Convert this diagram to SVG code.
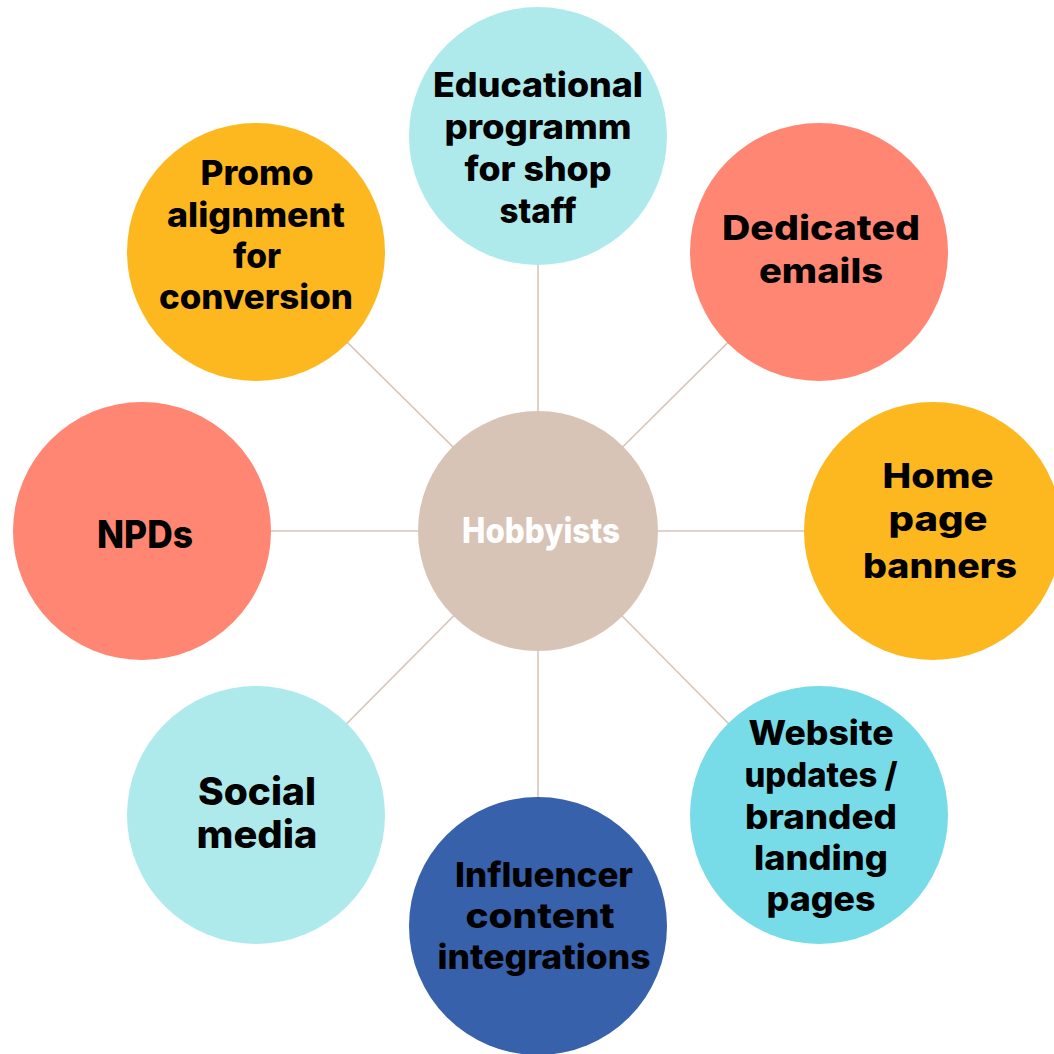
<svg xmlns="http://www.w3.org/2000/svg" width="1054" height="1054" viewBox="0 0 1054 1054">
  <style>
    .link { stroke: #d9c5b8; stroke-width: 1.6; fill: none; }
    .lbl { font-family: Inter, "Noto Sans", "Liberation Sans", sans-serif; font-weight: 800; fill: #000; text-anchor: middle; font-size: 34px; }
    .big { font-size: 38px; }
    .hub { font-family: Inter, "Noto Sans", "Liberation Sans", sans-serif; font-weight: 800; fill: #fff; text-anchor: middle; font-size: 35px; }
    .aqua { fill: #aeeaec; }
    .coral { fill: #ff8673; }
    .amber { fill: #fdb71f; }
    .cyan { fill: #78dce8; }
    .navy { fill: #3761ab; }
    .sand { fill: #d8c4b7; }
  </style>
  <rect width="1054" height="1054" fill="#fff"/>

  <g id="connectors">
    <line class="link" x1="538" y1="531" x2="538" y2="136"/>
    <line class="link" x1="538" y1="531" x2="819" y2="252"/>
    <line class="link" x1="538" y1="531" x2="933" y2="531"/>
    <line class="link" x1="538" y1="531" x2="819" y2="815"/>
    <line class="link" x1="538" y1="531" x2="538" y2="926"/>
    <line class="link" x1="538" y1="531" x2="256" y2="815"/>
    <line class="link" x1="538" y1="531" x2="142" y2="531"/>
    <line class="link" x1="538" y1="531" x2="256" y2="252"/>
  </g>

  <g id="hub">
    <circle class="sand" cx="538" cy="531" r="120"/>
    <text class="hub" x="541" y="543" textLength="158" lengthAdjust="spacingAndGlyphs">Hobbyists</text>
  </g>

  <g id="node-education">
    <circle class="aqua" cx="538" cy="136" r="129"/>
    <text class="lbl" x="538" y="97" textLength="210" lengthAdjust="spacingAndGlyphs">Educational</text>
    <text class="lbl" x="538" y="139" textLength="187" lengthAdjust="spacingAndGlyphs">programm</text>
    <text class="lbl" x="538" y="181" textLength="147" lengthAdjust="spacingAndGlyphs">for shop</text>
    <text class="lbl" x="538" y="223" textLength="77" lengthAdjust="spacingAndGlyphs">staff</text>
  </g>

  <g id="node-emails">
    <circle class="coral" cx="819" cy="252" r="129"/>
    <text class="lbl" x="821" y="240" textLength="198" lengthAdjust="spacingAndGlyphs">Dedicated</text>
    <text class="lbl" x="821" y="283" textLength="124" lengthAdjust="spacingAndGlyphs">emails</text>
  </g>

  <g id="node-banners">
    <circle class="amber" cx="933" cy="531" r="129"/>
    <text class="lbl" x="938" y="488" textLength="111" lengthAdjust="spacingAndGlyphs">Home</text>
    <text class="lbl" x="938" y="531" textLength="99" lengthAdjust="spacingAndGlyphs">page</text>
    <text class="lbl" x="940" y="578" textLength="154" lengthAdjust="spacingAndGlyphs">banners</text>
  </g>

  <g id="node-website">
    <circle class="cyan" cx="819" cy="815" r="129"/>
    <text class="lbl" x="821" y="745" textLength="145" lengthAdjust="spacingAndGlyphs">Website</text>
    <text class="lbl" x="821" y="787" textLength="153" lengthAdjust="spacingAndGlyphs">updates /</text>
    <text class="lbl" x="821" y="829" textLength="152" lengthAdjust="spacingAndGlyphs">branded</text>
    <text class="lbl" x="821" y="870" textLength="134" lengthAdjust="spacingAndGlyphs">landing</text>
    <text class="lbl" x="821" y="911" textLength="109" lengthAdjust="spacingAndGlyphs">pages</text>
  </g>

  <g id="node-influencer">
    <circle class="navy" cx="538" cy="926" r="129"/>
    <text class="lbl" x="544" y="887" textLength="178" lengthAdjust="spacingAndGlyphs">Influencer</text>
    <text class="lbl" x="540" y="928" textLength="149" lengthAdjust="spacingAndGlyphs">content</text>
    <text class="lbl" x="544" y="969" textLength="213" lengthAdjust="spacingAndGlyphs">integrations</text>
  </g>

  <g id="node-social">
    <circle class="aqua" cx="256" cy="815" r="129"/>
    <text class="lbl big" x="257" y="805" textLength="118" lengthAdjust="spacingAndGlyphs">Social</text>
    <text class="lbl big" x="257" y="848" textLength="121" lengthAdjust="spacingAndGlyphs">media</text>
  </g>

  <g id="node-npd">
    <circle class="coral" cx="142" cy="531" r="129"/>
    <text class="lbl big" x="145" y="548" textLength="96" lengthAdjust="spacingAndGlyphs">NPDs</text>
  </g>

  <g id="node-promo">
    <circle class="amber" cx="256" cy="252" r="129"/>
    <text class="lbl" x="257" y="185" textLength="113" lengthAdjust="spacingAndGlyphs">Promo</text>
    <text class="lbl" x="256" y="227" textLength="178" lengthAdjust="spacingAndGlyphs">alignment</text>
    <text class="lbl" x="257" y="268" textLength="48" lengthAdjust="spacingAndGlyphs">for</text>
    <text class="lbl" x="256" y="309" textLength="194" lengthAdjust="spacingAndGlyphs">conversion</text>
  </g>
</svg>
